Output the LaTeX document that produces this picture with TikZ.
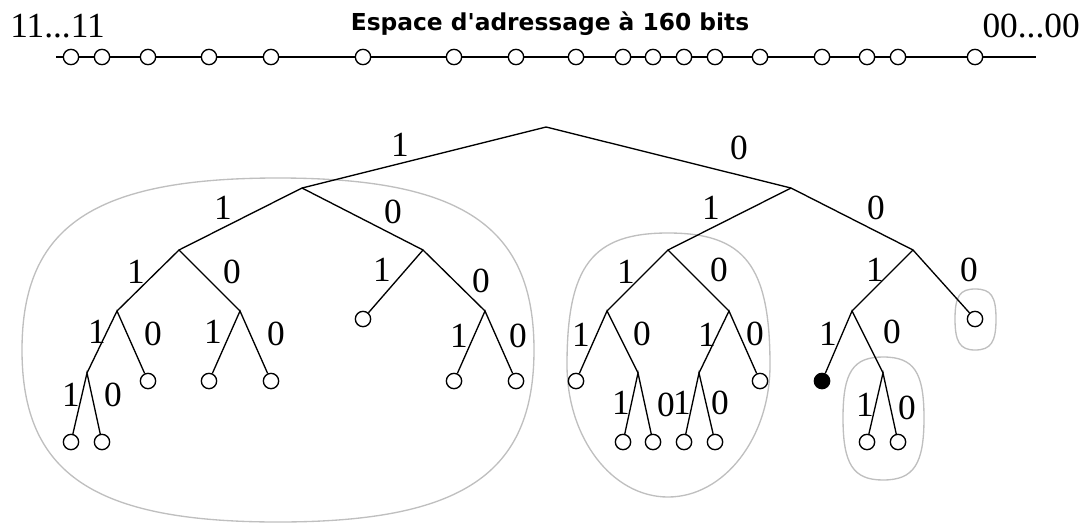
\documentclass[tikz,border=0pt]{standalone}
\usepackage{fontspec}
\setmainfont{Liberation Serif}
\newfontfamily\headfont{DejaVu Sans}

\begin{document}
\begin{tikzpicture}[x=0.75pt,y=0.75pt,yscale=-1,xscale=1,
  bit/.style={inner sep=0pt,font=\fontsize{26.5}{30}\selectfont},
  leaf/.style={circle,draw,fill=white,line width=1pt,inner sep=0pt,minimum size=11.5pt},
  hit/.style={leaf,fill=black},
  grp/.style={draw=black!25,line width=1pt},
  edge/.style={line width=1pt}]
\useasboundingbox (0,0) rectangle (1092,525);

%Shape: group blobs
\draw [grp] (22,350) .. controls (22,226) and (94,178) .. (278,178) .. controls (462,178) and (534,226) .. (534,350) .. controls (534,474) and (462,522) .. (278,522) .. controls (94,522) and (22,474) .. (22,350) -- cycle ;
\draw [grp] (567,365) .. controls (567,266) and (592,233) .. (668,233) .. controls (745,233) and (770,266) .. (770,365) .. controls (770,438) and (724,497) .. (668,497) .. controls (612,497) and (567,438) .. (567,365) -- cycle ;
\draw [grp] (843,418) .. controls (843,372) and (853,357) .. (883,357) .. controls (914,357) and (924,372) .. (924,418) .. controls (924,464) and (914,480) .. (883,480) .. controls (853,480) and (843,464) .. (843,418) -- cycle ;
\draw [grp] (955,319) .. controls (955,296) and (960,289) .. (975,289) .. controls (991,289) and (996,296) .. (996,319) .. controls (996,342) and (991,350) .. (975,350) .. controls (960,350) and (955,342) .. (955,319) -- cycle ;

%Straight Lines: address space
\coordinate (s) at (56,57);
\coordinate (e) at (1036,57);
\draw [line width=2pt] (s) -- (e) ;
\foreach \x [count=\i] in {71,102,148,209,271,363,454,516,576,623,653,684,715,760,822,867,898,975}
  \node [leaf] (p\i) at (\x,57) {};

% Text Node
\node [bit,anchor=base west] (lo) at (10,37) {11...11};
% Text Node
\node [bit,anchor=base east] (hi) at (1080,37) {00...00};
% Text Node
\node [anchor=base,inner sep=0pt,font=\headfont\bfseries\fontsize{17.5}{20}\selectfont] (title) at (550,30) {Espace d'adressage à 160 bits};

%Tree nodes
\coordinate (r) at (546,127);
\coordinate (n1) at (302,188);
\coordinate (n0) at (791,188);
\coordinate (n11) at (179,250);
\coordinate (n10) at (423,250);
\coordinate (n01) at (668,250);
\coordinate (n00) at (913,250);
\coordinate (n111) at (117,311);
\coordinate (n110) at (240,311);
\node [leaf] (n101) at (363,319) {};
\coordinate (n100) at (485,311);
\coordinate (n011) at (607,311);
\coordinate (n010) at (729,311);
\coordinate (n001) at (852,311);
\node [leaf] (n000) at (975,319) {};
\coordinate (n1111) at (87,373);
\node [leaf] (n1110) at (148,381) {};
\node [leaf] (n1101) at (209,381) {};
\node [leaf] (n1100) at (271,381) {};
\node [leaf] (n1001) at (454,381) {};
\node [leaf] (n1000) at (516,381) {};
\node [leaf] (n0111) at (576,381) {};
\coordinate (n0110) at (638,373);
\coordinate (n0101) at (699,373);
\node [leaf] (n0100) at (760,381) {};
\node [hit] (n0011) at (822,381) {};
\coordinate (n0010) at (883,373);
\node [leaf] (n11111) at (71,442) {};
\node [leaf] (n11110) at (102,442) {};
\node [leaf] (n01101) at (623,442) {};
\node [leaf] (n01100) at (653,442) {};
\node [leaf] (n01011) at (684,442) {};
\node [leaf] (n01010) at (715,442) {};
\node [leaf] (n00101) at (867,442) {};
\node [leaf] (n00100) at (898,442) {};

%Straight Lines: tree edges
\draw [edge] (n1) -- (r) -- (n0) ;
\draw [edge] (n11) -- (n1) -- (n10) ;
\draw [edge] (n01) -- (n0) -- (n00) ;
\draw [edge] (n111) -- (n11) -- (n110) ;
\draw [edge] (n101) -- (n10) -- (n100) ;
\draw [edge] (n011) -- (n01) -- (n010) ;
\draw [edge] (n001) -- (n00) -- (n000) ;
\draw [edge] (n1111) -- (n111) -- (n1110) ;
\draw [edge] (n1101) -- (n110) -- (n1100) ;
\draw [edge] (n1001) -- (n100) -- (n1000) ;
\draw [edge] (n0111) -- (n011) -- (n0110) ;
\draw [edge] (n0101) -- (n010) -- (n0100) ;
\draw [edge] (n0011) -- (n001) -- (n0010) ;
\draw [edge] (n11111) -- (n1111) -- (n11110) ;
\draw [edge] (n01101) -- (n0110) -- (n01100) ;
\draw [edge] (n01011) -- (n0101) -- (n01010) ;
\draw [edge] (n00101) -- (n0010) -- (n00100) ;

% Text Node: edge bits
\foreach \x/\y/\t [count=\i] in {400/145/1,739/148/0,
  223/208/1,393/212/0,711/208/1,876/208/0,
  136/272/1,232/272/0,382/270/1,481/281/0,626/272/1,719/270/0,875/270/1,969/270/0,
  97/332/1,153/334/0,213/332/1,276/334/0,459/336/1,518/336/0,581/335/1,642/334/0,707/335/1,755/334/0,828/334/1,892/332/0,
  71/395/1,113/395/0,621/403/1,666/405/0,682/403/1,720/403/0,865/405/1,907/408/0}
  \node [bit] (l\i) at (\x,\y) {\t};
\end{tikzpicture}
\end{document}
